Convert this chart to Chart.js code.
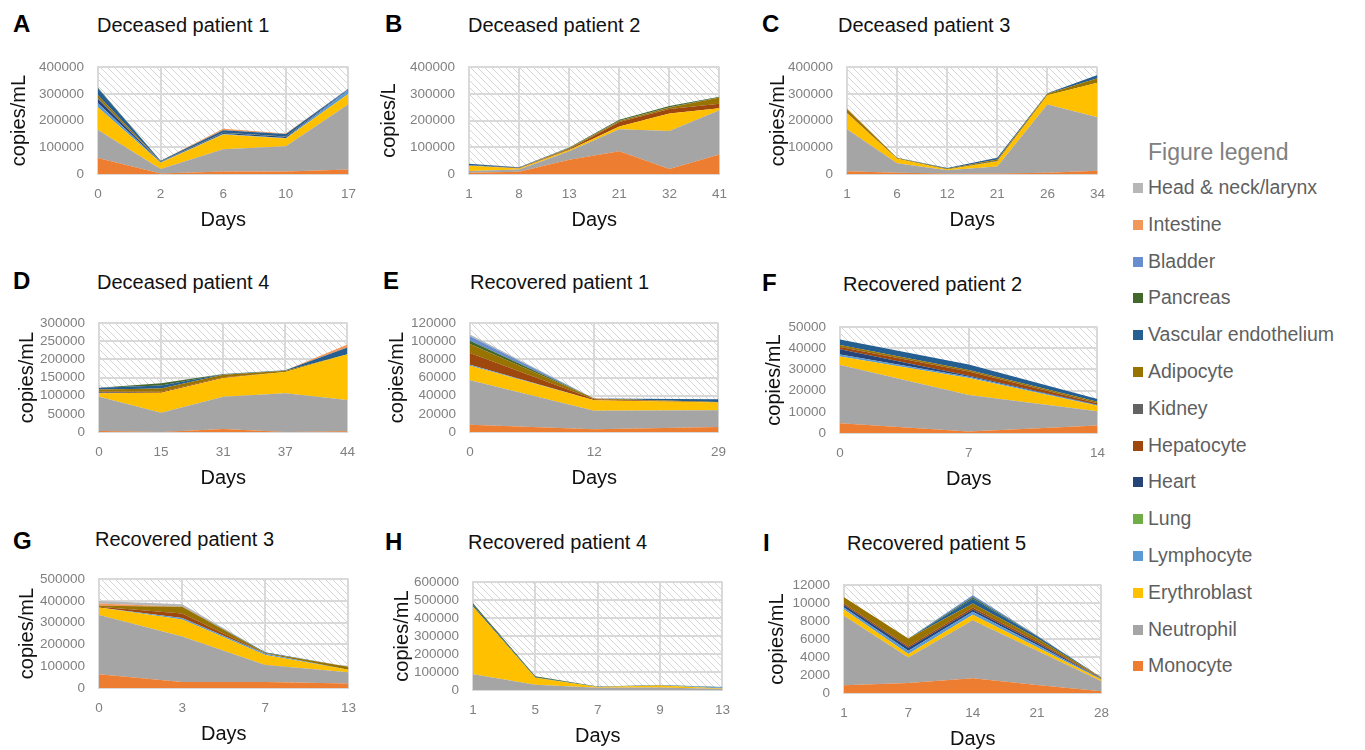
<!DOCTYPE html>
<html>
<head>
<meta charset="utf-8">
<script src="https://cdn.jsdelivr.net/npm/chart.js@4.4.1/dist/chart.umd.min.js"></script>
<style>
  body { margin: 0; background: #fff; width: 1365px; height: 750px; position: relative; overflow: hidden; font-family: "Liberation Sans", Arial, sans-serif; }
  canvas { position: absolute; }
  .letter { position: absolute; font-weight: bold; font-size: 24px; line-height: 24px; color: #000; }
  .title { position: absolute; font-size: 20px; line-height: 20px; color: #111; white-space: nowrap; }
  .legend-title { position: absolute; left: 1148px; top: 140px; font-size: 23px; line-height: 24px; color: #808080; white-space: nowrap; }
  .legend-item { position: absolute; left: 1133px; font-size: 19.5px; line-height: 20px; color: #5f5f5f; white-space: nowrap; }
  .legend-item span { display: inline-block; width: 10px; height: 10px; margin-right: 5px; vertical-align: 1px; }
</style>
</head>
<body>
<script>
// stacking order, bottom to top
const cellTypes = ['Monocyte', 'Neutrophil', 'Erythroblast', 'Lymphocyte', 'Lung', 'Heart', 'Hepatocyte',
    'Kidney', 'Adipocyte', 'Vascular endothelium', 'Pancreas', 'Bladder', 'Intestine', 'Head & neck/larynx'];
const cellColors = ['#ED7D31', '#A5A5A5', '#FFC000', '#5B9BD5', '#70AD47', '#264478', '#9E480E',
    '#636363', '#997300', '#255E91', '#43682B', '#698ED0', '#F1975A', '#B7B7B7'];

// rows follow cellTypes
const daysA = ['0', '2', '6', '10', '17'];
const copiesA = [
    [60000, 2000, 9000, 9000, 17000],
    [105000, 17000, 84000, 95000, 244000],
    [85000, 23000, 55000, 29000, 39000],
    [15000, 2000, 2000, 2000, 14000],
    [0, 0, 0, 0, 0],
    [15000, 2000, 3000, 4000, 2000],
    [0, 0, 0, 0, 0],
    [3000, 0, 0, 0, 0],
    [12000, 1000, 1000, 1000, 0],
    [25000, 3000, 10000, 10000, 2000],
    [3000, 0, 0, 0, 0],
    [0, 0, 0, 0, 2000],
    [0, 0, 5000, 2000, 0],
    [0, 0, 0, 0, 0]
];

const daysB = ['1', '8', '13', '21', '32', '41'];
const copiesB = [
    [5000, 8000, 53000, 85000, 19000, 73000],
    [6000, 9000, 32000, 82000, 142000, 166000],
    [20000, 4000, 5000, 11000, 65000, 7000],
    [1000, 0, 0, 0, 0, 0],
    [0, 0, 0, 0, 0, 0],
    [2000, 0, 0, 0, 0, 0],
    [0, 1000, 3000, 17000, 17000, 17000],
    [0, 0, 0, 0, 0, 0],
    [0, 0, 3000, 3000, 6000, 23000],
    [4000, 2000, 1000, 1000, 1000, 1000],
    [0, 1000, 2000, 4000, 4000, 2000],
    [0, 0, 0, 0, 0, 0],
    [0, 0, 0, 0, 0, 0],
    [0, 0, 0, 0, 0, 0]
];

const daysC = ['1', '6', '12', '21', '26', '34'];
const copiesC = [
    [10000, 5000, 2000, 2000, 5000, 12000],
    [157000, 35000, 12000, 26000, 255000, 200000],
    [60000, 17000, 3000, 20000, 35000, 129000],
    [0, 0, 0, 0, 0, 0],
    [0, 0, 0, 0, 0, 0],
    [0, 0, 0, 2000, 0, 0],
    [2000, 0, 0, 0, 0, 0],
    [0, 0, 0, 0, 0, 0],
    [14000, 3000, 3000, 4000, 5000, 17000],
    [0, 1000, 2000, 7000, 2000, 12000],
    [0, 0, 0, 0, 0, 0],
    [0, 0, 0, 0, 0, 0],
    [3000, 0, 0, 0, 0, 0],
    [0, 0, 0, 0, 0, 0]
];

const daysD = ['0', '15', '31', '37', '44'];
const copiesD = [
    [3000, 0, 8000, 0, 2000],
    [94000, 53000, 89000, 107000, 86000],
    [10000, 55000, 52000, 58000, 126000],
    [0, 0, 0, 0, 0],
    [0, 0, 0, 0, 0],
    [2000, 0, 0, 0, 0],
    [2000, 3000, 2000, 0, 0],
    [0, 0, 0, 0, 0],
    [6000, 9000, 7000, 4000, 0],
    [5000, 8000, 1000, 1000, 19000],
    [0, 6000, 1000, 0, 0],
    [0, 0, 0, 0, 0],
    [0, 0, 0, 0, 8000],
    [0, 0, 0, 0, 0]
];

const daysE = ['0', '12', '29'];
const copiesE = [
    [8000, 3000, 5500],
    [49000, 20500, 18500],
    [16000, 11500, 8500],
    [1000, 0, 0],
    [0, 0, 0],
    [0, 0, 0],
    [13000, 1000, 0],
    [0, 0, 0],
    [10000, 1000, 500],
    [0, 0, 3000],
    [3500, 0, 0],
    [5000, 0, 0],
    [0, 0, 0],
    [2000, 0, 0]
];

const daysF = ['0', '7', '14'];
const copiesF = [
    [4600, 700, 3600],
    [27500, 17300, 6700],
    [4000, 8000, 2600],
    [1000, 500, 200],
    [0, 0, 0],
    [2500, 500, 200],
    [1000, 2000, 800],
    [0, 0, 0],
    [1000, 800, 600],
    [2500, 2500, 1400],
    [0, 0, 0],
    [0, 0, 0],
    [0, 0, 0],
    [0, 0, 0]
];

const daysG = ['0', '3', '7', '13'];
const copiesG = [
    [63000, 28000, 28000, 21000],
    [272000, 208000, 78000, 51000],
    [35000, 78000, 46000, 12000],
    [0, 7000, 5000, 0],
    [0, 0, 0, 0],
    [0, 0, 0, 0],
    [3000, 21000, 0, 0],
    [0, 0, 0, 0],
    [5000, 31000, 4000, 14000],
    [0, 0, 3000, 0],
    [0, 0, 0, 0],
    [0, 0, 0, 0],
    [10000, 0, 0, 0],
    [12000, 11000, 0, 0]
];

const daysH = ['1', '5', '7', '9', '13'];
const copiesH = [
    [0, 0, 0, 0, 0],
    [88000, 29000, 12000, 14000, 5000],
    [377000, 39000, 5000, 11000, 3000],
    [0, 0, 0, 0, 6000],
    [0, 0, 0, 0, 0],
    [0, 0, 0, 0, 0],
    [0, 0, 0, 0, 0],
    [0, 0, 0, 0, 0],
    [0, 0, 0, 0, 0],
    [8000, 3000, 1000, 1000, 1000],
    [9000, 5000, 2000, 2000, 1000],
    [0, 0, 0, 0, 0],
    [0, 0, 0, 0, 0],
    [0, 0, 0, 0, 0]
];

const daysI = ['1', '7', '14', '21', '28'];
const copiesI = [
    [850, 1120, 1630, 900, 200],
    [7750, 2820, 6470, 3800, 1100],
    [680, 410, 600, 400, 160],
    [220, 350, 350, 250, 60],
    [0, 0, 0, 0, 0],
    [300, 330, 230, 200, 50],
    [160, 170, 240, 200, 50],
    [0, 0, 0, 0, 0],
    [680, 850, 440, 350, 80],
    [0, 0, 510, 200, 30],
    [0, 0, 170, 50, 0],
    [0, 0, 240, 50, 0],
    [0, 0, 0, 0, 0],
    [0, 0, 0, 0, 0]
];

const yMaxes = [400000, 400000, 400000, 300000, 120000, 50000, 500000, 600000, 12000];
const ySteps = [100000, 100000, 100000, 50000, 20000, 10000, 100000, 100000, 2000];

// layout: plot box [l, t, r, b], y title centre x, letter [x, cy], title [x, cy]
const panels = [
    { letter: 'A', title: 'Deceased patient 1', yText: 'copies/mL', days: daysA, copies: copiesA, box: [98, 57, 354, 174], yc: 19, lp: [13, 23.5], tp: [97, 24.5] },
    { letter: 'B', title: 'Deceased patient 2', yText: 'copies/L', days: daysB, copies: copiesB, box: [469, 57, 725, 174], yc: 389, lp: [385, 23.5], tp: [468, 24.5] },
    { letter: 'C', title: 'Deceased patient 3', yText: 'copies/mL', days: daysC, copies: copiesC, box: [847, 57, 1103, 174], yc: 778, lp: [762, 23.5], tp: [838, 24.5] },
    { letter: 'D', title: 'Deceased patient 4', yText: 'copies/mL', days: daysD, copies: copiesD, box: [99, 313, 353, 432], yc: 27, lp: [13, 281], tp: [97, 281.5] },
    { letter: 'E', title: 'Recovered patient 1', yText: 'copies/mL', days: daysE, copies: copiesE, box: [470, 313, 724, 432], yc: 397, lp: [383, 281], tp: [470, 281.5] },
    { letter: 'F', title: 'Recovered patient 2', yText: 'copies/mL', days: daysF, copies: copiesF, box: [840, 317, 1103, 433], yc: 774, lp: [762, 282.5], tp: [843, 283.5] },
    { letter: 'G', title: 'Recovered patient 3', yText: 'copies/mL', days: daysG, copies: copiesG, box: [99, 569, 354, 688], yc: 27, lp: [13, 541], tp: [95, 538.5] },
    { letter: 'H', title: 'Recovered patient 4', yText: 'copies/mL', days: daysH, copies: copiesH, box: [473, 572, 728, 690], yc: 402, lp: [385, 541.5], tp: [468, 541.5] },
    { letter: 'I', title: 'Recovered patient 5', yText: 'copies/mL', days: daysI, copies: copiesI, box: [844, 575, 1107, 693], yc: 777, lp: [763, 542.5], tp: [847, 542.5] }
];

Chart.defaults.font.family = '"Liberation Sans", Arial, sans-serif';

function hatchPattern(ctx) {
    const n = 7;
    const c = document.createElement('canvas');
    c.width = n;
    c.height = n;
    const g = c.getContext('2d');
    g.fillStyle = '#fff';
    g.fillRect(0, 0, n, n);
    g.strokeStyle = '#d6d6d6';
    g.lineWidth = 1;
    g.beginPath();
    g.moveTo(-1, -1); g.lineTo(n + 1, n + 1);
    g.moveTo(-1, n - 1); g.lineTo(1, n + 1);
    g.moveTo(n - 1, -1); g.lineTo(n + 1, 1);
    g.stroke();
    return ctx.createPattern(c, 'repeat');
}

const hatchBackground = {
    id: 'hatchBackground',
    beforeDraw(chart) {
        const { ctx, chartArea: a } = chart;
        ctx.save();
        ctx.fillStyle = hatchPattern(ctx);
        ctx.fillRect(a.left, a.top, a.right - a.left, a.bottom - a.top);
        ctx.restore();
    }
};

function addText(cls, text, x, y) {
    const d = document.createElement('div');
    d.className = cls;
    d.textContent = text;
    d.style.left = x + 'px';
    d.style.top = y + 'px';
    document.body.appendChild(d);
}

const gridColor = '#d9d9d9';
const tickColor = '#808080';

panels.forEach((p, k) => {
    addText('letter', p.letter, p.lp[0], p.lp[1] - 12);
    addText('title', p.title, p.tp[0], p.tp[1] - 10);

    const [l, t, r, b] = p.box;
    const left = p.yc - 18, top = t - 12;
    const canvas = document.createElement('canvas');
    canvas.width = r + 14 - left;
    canvas.height = b + 60 - top;
    canvas.style.left = left + 'px';
    canvas.style.top = top + 'px';
    document.body.appendChild(canvas);

    new Chart(canvas, {
        type: 'line',
        data: {
            labels: p.days,
            datasets: cellTypes.map((name, i) => ({
                label: name,
                data: p.copies[i],
                backgroundColor: cellColors[i],
                borderColor: cellColors[i],
                borderWidth: 0,
                pointRadius: 0,
                pointHoverRadius: 0,
                tension: 0,
                fill: i === 0 ? 'origin' : '-1'
            }))
        },
        options: {
            responsive: false,
            animation: false,
            devicePixelRatio: 1,
            layout: { padding: { top: 12, right: 14, left: 0, bottom: 0 } },
            plugins: { legend: { display: false }, tooltip: { enabled: false } },
            scales: {
                x: {
                    offset: false,
                    grid: { color: gridColor, lineWidth: 2, drawTicks: false },
                    border: { color: gridColor, width: 2 },
                    ticks: { color: tickColor, font: { size: 13.5 }, padding: 12, maxRotation: 0, autoSkip: false },
                    title: { display: true, text: 'Days', color: '#111', font: { size: 20 }, padding: { top: 0, bottom: 2 } },
                    afterFit: s => { s.height = 60; }
                },
                y: {
                    stacked: true,
                    min: 0,
                    max: yMaxes[k],
                    grid: { color: gridColor, lineWidth: 2, drawTicks: false },
                    border: { color: gridColor, width: 2 },
                    ticks: { stepSize: ySteps[k], autoSkip: false, color: tickColor, font: { size: 13.5 }, padding: 14, callback: v => String(v) },
                    title: { display: true, text: p.yText, color: '#111', font: { size: 20 }, padding: { top: 6, bottom: 0 } },
                    afterFit: s => { s.width = l - left; }
                }
            }
        },
        plugins: [hatchBackground]
    });
});

// legend, top entry is the top layer
addText('legend-title', 'Figure legend', 1148, 140);
cellTypes.slice().reverse().forEach((name, i) => {
    const d = document.createElement('div');
    d.className = 'legend-item';
    d.style.top = (187 + i * 36.8 - 10) + 'px';
    const sw = document.createElement('span');
    sw.style.background = cellColors[cellTypes.length - 1 - i];
    d.appendChild(sw);
    d.appendChild(document.createTextNode(name));
    document.body.appendChild(d);
});
</script>
</body>
</html>
